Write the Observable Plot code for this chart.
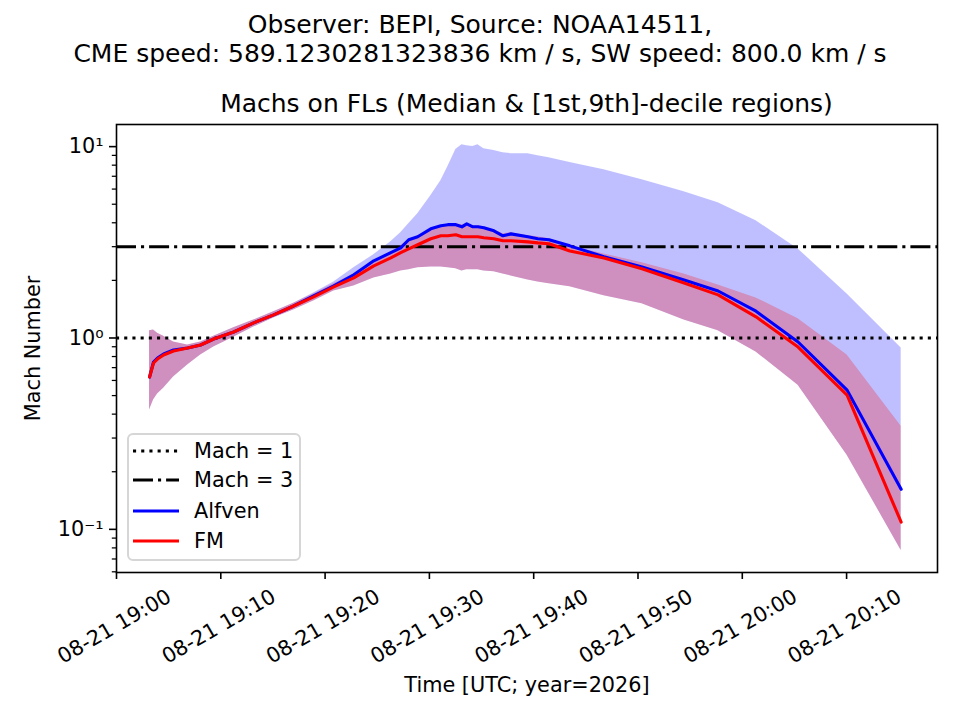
<!DOCTYPE html>
<html><head><meta charset="utf-8">
<script src="https://cdn.jsdelivr.net/npm/d3@7"></script>
<script src="https://cdn.jsdelivr.net/npm/@observablehq/plot@0.6"></script>
<style>
body{margin:0;background:#fff;font-family:"DejaVu Sans",sans-serif;}
#fig{position:relative;width:960px;height:720px;overflow:hidden;background:#fff;}
#head{position:relative;width:960px;height:118px;}
.t{position:absolute;white-space:nowrap;font-size:25px;line-height:25px;color:#000;transform:translateX(-50%);}
#chart svg{display:block;}
#legend{position:absolute;left:127px;top:433px;width:174px;height:128px;box-sizing:border-box;border:2px solid #d6d6d6;border-radius:6px;background:rgba(255,255,255,0.8);}
#legend svg{position:absolute;left:-2px;top:-2px;}
</style></head>
<body>
<div id="fig">
 <div id="head">
  <div class="t" style="left:480px;top:12px">Observer: BEPI, Source: NOAA14511,</div>
  <div class="t" style="left:480px;top:41px">CME speed: 589.1230281323836 km / s, SW speed: 800.0 km / s</div>
  <div class="t" style="left:526.5px;top:91px">Machs on FLs (Median &amp; [1st,9th]-decile regions)</div>
 </div>
 <div id="chart"></div>
 <div id="legend"></div>
</div>
<script>
// ---- data ----
const times = ["19:03:10","19:03:33","19:03:56","19:04:31","19:05:28","19:06:49","19:08:04","19:09:19","19:11:14","19:13:09","19:15:04","19:16:59","19:18:54","19:20:50","19:22:45","19:24:40","19:26:18","19:27:15","19:28:01","19:28:53","19:30:08","19:31:06","19:31:46","19:32:32","19:33:07","19:33:35","19:34:10","19:34:39","19:35:13","19:36:11","19:37:03","19:37:49","19:39:27","19:40:24","19:41:28","19:43:28","19:46:44","19:50:23","19:54:25","19:57:41","20:01:19","20:05:21","20:10:03","20:15:14"];
const alfvenHigh = [1.09,1.10,1.06,1.02,0.953,0.919,0.953,1.02,1.13,1.24,1.37,1.52,1.72,1.96,2.33,2.72,3.18,3.55,3.95,4.46,5.54,6.64,7.86,9.65,10.24,10.12,10.0,10.24,9.76,9.53,9.30,9.19,9.19,8.97,8.76,8.25,7.58,6.72,5.81,5.09,4.10,2.92,1.70,0.886];
const alfvenMedian = [0.625,0.749,0.786,0.825,0.865,0.886,0.919,0.988,1.075,1.20,1.32,1.47,1.66,1.87,2.14,2.53,2.79,2.96,3.26,3.38,3.72,3.86,3.91,3.91,3.81,3.95,3.81,3.81,3.77,3.63,3.42,3.50,3.38,3.30,3.26,3.03,2.66,2.35,2.01,1.76,1.38,0.953,0.534,0.162];
const alfvenLow = [0.420,0.474,0.509,0.547,0.625,0.722,0.815,0.897,1.01,1.14,1.27,1.40,1.56,1.76,1.87,2.06,2.16,2.24,2.27,2.33,2.35,2.35,2.33,2.30,2.24,2.27,2.27,2.27,2.24,2.22,2.16,2.11,2.01,1.96,1.92,1.85,1.66,1.51,1.24,1.09,0.845,0.567,0.244,0.0776];
const fmHigh = [1.09,1.10,1.06,1.02,0.953,0.919,0.953,1.02,1.13,1.24,1.37,1.52,1.70,1.92,2.16,2.50,2.75,3.03,3.26,3.42,3.68,3.86,3.91,3.95,3.91,3.95,3.86,3.86,3.81,3.68,3.50,3.55,3.42,3.38,3.30,3.03,2.75,2.47,2.16,1.89,1.62,1.26,0.815,0.346];
const fmMedian = [0.625,0.740,0.776,0.815,0.855,0.886,0.919,0.988,1.075,1.20,1.32,1.47,1.64,1.85,2.06,2.38,2.62,2.79,2.92,3.07,3.30,3.42,3.42,3.46,3.38,3.38,3.38,3.38,3.34,3.30,3.22,3.22,3.18,3.14,3.11,2.85,2.62,2.30,1.94,1.68,1.29,0.897,0.503,0.109];
const fmLow = [0.420,0.474,0.509,0.547,0.625,0.722,0.815,0.897,1.01,1.14,1.27,1.40,1.56,1.76,1.87,2.06,2.16,2.24,2.27,2.33,2.35,2.35,2.33,2.30,2.24,2.27,2.27,2.27,2.24,2.22,2.16,2.11,2.01,1.96,1.92,1.85,1.66,1.51,1.24,1.09,0.845,0.567,0.244,0.0776];
const machLevels = [1, 3];
const xTickTimes = ["19:00","19:10","19:20","19:30","19:40","19:50","20:00","20:10"];
const xTickLabels = ["08-21 19:00","08-21 19:10","08-21 19:20","08-21 19:30","08-21 19:40","08-21 19:50","08-21 20:00","08-21 20:10"];
const yTickValues = [0.1, 1, 10];
const yTickLabels = ["10\u207B\u00B9", "10\u2070", "10\u00B9"];
const yMinorTicks = [0.06,0.07,0.08,0.09,0.2,0.3,0.4,0.5,0.6,0.7,0.8,0.9,2,3,4,5,6,7,8,9];
const legendLabels = ["Mach = 1", "Mach = 3", "Alfven", "FM"];
const xLabel = "Time [UTC; year=2026]";
const yLabel = "Mach Number";

// ---- build ----
const parse = s => new Date(`2026-08-21T${s.length === 5 ? s + ":00" : s}Z`);
const rows = times.map((s, i) => ({
  t: parse(s),
  aLo: alfvenLow[i], aHi: alfvenHigh[i], aMed: alfvenMedian[i],
  fLo: fmLow[i], fHi: fmHigh[i], fMed: fmMedian[i]
}));
const xTicks = xTickTimes.map(parse);
const FS = 20.8;
const LW = 3.1;
const dotted = "3.1 5.1";
const dashdot = "20 5 3.1 5";

const chart = Plot.plot({
  width: 960, height: 602,
  marginTop: 6, marginBottom: 148, marginLeft: 116, marginRight: 23,
  style: {fontFamily: "DejaVu Sans", fontSize: FS + "px", color: "black", background: "white", overflow: "visible"},
  x: {type: "utc", domain: [parse("19:00:00"), parse("20:18:43")]},
  y: {type: "log", domain: [0.0595, 13.05]},
  marks: [
    Plot.areaY(rows, {x: "t", y1: "aLo", y2: "aHi", fill: "blue", fillOpacity: 0.25}),
    Plot.areaY(rows, {x: "t", y1: "fLo", y2: "fHi", fill: "red", fillOpacity: 0.25}),
    Plot.ruleY([machLevels[0]], {stroke: "black", strokeWidth: LW, strokeDasharray: dotted}),
    Plot.ruleY([machLevels[1]], {stroke: "black", strokeWidth: LW, strokeDasharray: dashdot}),
    Plot.line(rows, {x: "t", y: "aMed", stroke: "blue", strokeWidth: LW}),
    Plot.line(rows, {x: "t", y: "fMed", stroke: "red", strokeWidth: LW}),
    Plot.frame({stroke: "black", strokeWidth: 1.6}),
    Plot.axisX({ticks: xTicks, tickSize: 7, strokeWidth: 1.6, tickFormat: () => "", label: null}),
    Plot.text(xTicks, {x: d => d, text: (d, i) => xTickLabels[i], frameAnchor: "bottom", rotate: -30,
      textAnchor: "middle", lineAnchor: "middle", dy: 54, dx: -2, fontSize: FS, fill: "black"}),
    Plot.axisY({ticks: yMinorTicks, tickSize: 4.2, strokeWidth: 1.25, tickFormat: () => "", label: null}),
    Plot.axisY({ticks: yTickValues, tickSize: 7, tickPadding: 6, strokeWidth: 1.6, fontSize: FS,
      tickFormat: d => yTickLabels[yTickValues.indexOf(d)], label: null}),
    Plot.text([xLabel], {text: d => d, frameAnchor: "bottom", dy: 113, lineAnchor: "middle", textAnchor: "middle", fontSize: FS, fill: "black"}),
    Plot.text([yLabel], {text: d => d, frameAnchor: "left", dx: -83, rotate: -90, lineAnchor: "middle", textAnchor: "middle", fontSize: FS, fill: "black"})
  ]
});
document.getElementById("chart").appendChild(chart);

// ---- legend ----
const legendStyles = [
  {stroke: "black", dash: dotted},
  {stroke: "black", dash: dashdot},
  {stroke: "blue", dash: null},
  {stroke: "red", dash: null}
];
const lg = d3.select("#legend").append("svg").attr("width", 174).attr("height", 128)
  .style("font-family", "DejaVu Sans").style("font-size", FS + "px");
const rowY = [18, 47, 78, 108];
legendLabels.forEach((lab, i) => {
  const st = legendStyles[i];
  const ln = lg.append("line").attr("x1", 6).attr("x2", 52).attr("y1", rowY[i]).attr("y2", rowY[i])
    .attr("stroke", st.stroke).attr("stroke-width", LW);
  if (st.dash) ln.attr("stroke-dasharray", st.dash);
  lg.append("text").attr("x", 67).attr("y", rowY[i]).attr("dy", "0.36em").attr("fill", "black").text(lab);
});
</script>
</body></html>
